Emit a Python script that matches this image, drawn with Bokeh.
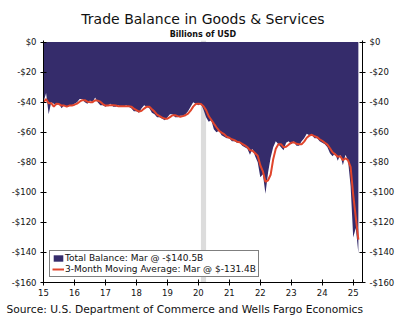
import pandas as pd
from bokeh.plotting import figure
from bokeh.models import (ColumnDataSource, Range1d, LinearAxis, FixedTicker,
                          Legend, LegendItem, BoxAnnotation, Title)
from bokeh.embed import file_html
from bokeh.resources import INLINE

# ---------------- data (billions of USD, monthly Jan-2015 .. Mar-2025) ----------------
total_balance = [
    # 2015
    -40, -34, -48, -40, -41, -42, -41, -44, -42, -43, -42, -42,
    # 2016
    -41, -40, -38, -38, -40, -41, -39, -40, -37, -40, -42, -42,
    # 2017
    -43, -42, -41, -43, -43, -42, -43, -43, -42, -43, -44, -46,
    # 2018
    -46, -47, -44, -42, -43, -44, -47, -48, -50, -50, -51, -52,
    # 2019
    -50, -48, -48, -50, -50, -49, -49, -48, -46, -43, -40, -41,
    # 2020
    -42, -41, -45, -50, -53, -52, -58, -60, -59, -62, -63, -64,
    # 2021
    -64, -66, -66, -67, -67, -69, -70, -71, -75, -71, -76, -80,
    # 2022
    -90, -88, -101, -87, -77, -70, -66, -68, -70, -72, -67, -66,
    # 2023
    -68, -66, -69, -69, -66, -64, -61, -62, -62, -64, -64, -66,
    # 2024
    -67, -68, -70, -74, -76, -74, -79, -75, -82, -75, -79, -96,
    # 2025
    -130, -123.7, -140.5,
]
moving_avg_3m = [
    # 2015
    -40.0, -38.0, -40.7, -40.7, -43.0, -41.0, -41.3, -42.3, -42.3, -43.0, -42.3, -42.3,
    # 2016
    -41.7, -41.0, -39.7, -38.7, -38.7, -39.7, -40.0, -40.0, -38.7, -39.0, -39.7, -41.3,
    # 2017
    -42.3, -42.3, -42.0, -42.0, -42.3, -42.7, -42.7, -42.7, -42.7, -42.7, -43.0, -44.3,
    # 2018
    -45.3, -46.3, -45.7, -44.3, -43.0, -43.0, -44.7, -46.3, -48.3, -49.3, -50.3, -51.0,
    # 2019
    -51.0, -50.0, -48.7, -48.7, -49.3, -49.7, -49.3, -48.7, -47.7, -45.7, -43.0, -41.3,
    # 2020
    -41.0, -41.3, -42.7, -45.3, -49.3, -51.7, -54.3, -56.7, -59.0, -60.3, -61.3, -63.0,
    # 2021
    -63.7, -64.7, -65.3, -66.3, -66.7, -67.7, -68.7, -70.0, -72.0, -72.3, -74.0, -75.7,
    # 2022
    -82.0, -86.0, -93.0, -92.0, -88.3, -78.0, -71.0, -68.0, -68.0, -70.0, -69.7, -68.3,
    # 2023
    -67.0, -66.7, -67.7, -68.0, -68.0, -66.3, -63.7, -62.3, -61.7, -62.7, -63.3, -64.7,
    # 2024
    -65.7, -67.0, -68.3, -70.7, -73.3, -74.7, -76.3, -76.0, -78.7, -77.3, -78.7, -83.3,
    # 2025
    -101.7, -116.6, -131.4,
]
start_month = "2015-01"
recession_start = "2020-02"
recession_end = "2020-04"

x_ticks = [15, 16, 17, 18, 19, 20, 21, 22, 23, 24, 25]
x_tick_labels = ["15", "16", "17", "18", "19", "20", "21", "22", "23", "24", "25"]
y_ticks = [0, -20, -40, -60, -80, -100, -120, -140, -160]
y_tick_labels = ["$0", "-$20", "-$40", "-$60", "-$80", "-$100", "-$120", "-$140", "-$160"]

title_text = "Trade Balance in Goods & Services"
subtitle_text = "Billions of USD"
source_text = "Source: U.S. Department of Commerce and Wells Fargo Economics"
legend_total = "Total Balance: Mar @ -$140.5B"
legend_ma = "3-Month Moving Average: Mar @ $-131.4B"

# ---------------- build ----------------
def to_dec(ts):
    return ts.year - 2000 + (ts.month - 1) / 12.0

dates = pd.date_range(start_month, periods=len(total_balance), freq="MS")
xs = [to_dec(d) for d in dates]
src = ColumnDataSource(dict(x=xs, total=total_balance, ma=moving_avg_3m, zero=[0] * len(xs)))

NAVY = "#352c6b"
RED = "#e0452c"
FONT = "DejaVu Sans"

p = figure(width=403, height=323, output_backend="svg", toolbar_location=None,
           x_range=Range1d(15, 25.3), y_range=Range1d(-160, 1.0),
           min_border_left=43, min_border_right=41, min_border_top=40, min_border_bottom=41)
p.outline_line_color = None
p.xgrid.visible = False
p.ygrid.visible = False
p.background_fill_color = "white"
p.border_fill_color = "white"

rs = pd.Timestamp(recession_start)
re_ = pd.Timestamp(recession_end)
band = BoxAnnotation(left=to_dec(rs), right=to_dec(re_), fill_color="#dcdcdc",
                     fill_alpha=1.0, line_color=None, level="underlay")
p.add_layout(band)

area = p.varea(x="x", y1="zero", y2="total", source=src, fill_color=NAVY, fill_alpha=1.0)
line = p.line(x="x", y="ma", source=src, line_color=RED, line_width=2)

def style_axis(ax):
    ax.axis_line_color = "black"
    ax.major_tick_line_color = "black"
    ax.major_tick_in = 3
    ax.major_tick_out = 3
    ax.minor_tick_line_color = None
    ax.major_label_text_font = FONT
    ax.major_label_text_font_size = "8.5px"
    ax.major_label_text_color = "#111111"

p.xaxis.ticker = FixedTicker(ticks=x_ticks)
p.xaxis.major_label_overrides = {t: l for t, l in zip(x_ticks, x_tick_labels)}
p.xaxis.major_label_standoff = 3
p.yaxis.ticker = FixedTicker(ticks=y_ticks)
p.yaxis.major_label_overrides = {t: l for t, l in zip(y_ticks, y_tick_labels)}
p.yaxis.major_label_standoff = 4
style_axis(p.xaxis[0])
style_axis(p.yaxis[0])

ry = LinearAxis(ticker=FixedTicker(ticks=y_ticks),
                major_label_overrides={t: l for t, l in zip(y_ticks, y_tick_labels)},
                major_label_standoff=4)
style_axis(ry)
p.add_layout(ry, "right")

legend = Legend(items=[LegendItem(label=legend_total, renderers=[area]),
                       LegendItem(label=legend_ma, renderers=[line])],
                location=(6, 5), orientation="vertical",
                label_text_font=FONT, label_text_font_size="9px", label_text_color="#111111",
                glyph_width=12, glyph_height=8, label_height=10, label_standoff=1,
                spacing=1, padding=2, margin=0,
                border_line_color="black", border_line_width=1,
                background_fill_color="white", background_fill_alpha=1.0)
p.add_layout(legend, "center")

# subtitle first (closest to the plot), then main title above it
p.add_layout(Title(text=subtitle_text, align="center", text_font=FONT,
                   text_font_size="8px", text_font_style="bold", text_color="#111111",
                   standoff=3, offset=0), "above")
p.add_layout(Title(text=title_text, align="center", text_font=FONT,
                   text_font_size="14px", text_font_style="normal", text_color="#111111",
                   standoff=0, offset=0), "above")
p.add_layout(Title(text=source_text, align="left", text_font=FONT,
                   text_font_size="10.7px", text_font_style="normal", text_color="#111111",
                   standoff=5, offset=-37), "below")

open("out.html", "w").write(file_html(p, INLINE))
